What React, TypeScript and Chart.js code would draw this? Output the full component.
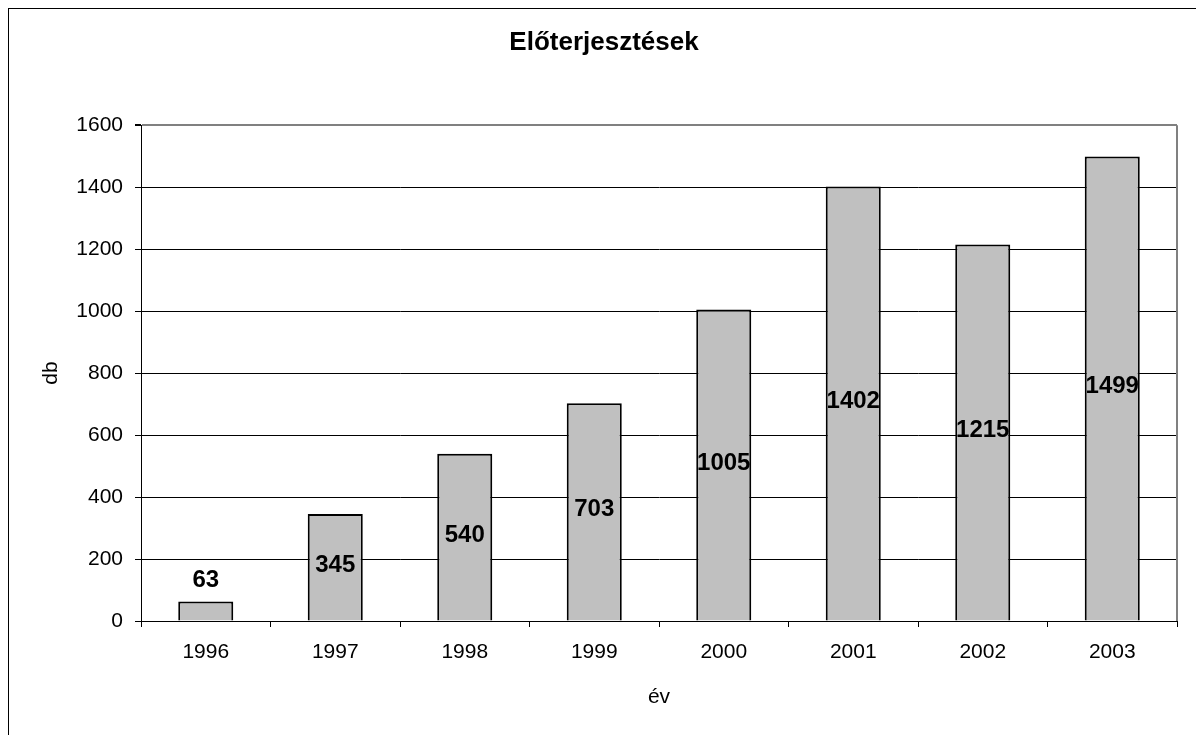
import React, { useEffect, useRef } from "react";
import { Chart, registerables } from "chart.js";

Chart.register(...registerables);

const years: string[] = ["1996", "1997", "1998", "1999", "2000", "2001", "2002", "2003"];
const submissions: number[] = [63, 345, 540, 703, 1005, 1402, 1215, 1499];
const yMin = 0;
const yMax = 1600;
const yStep = 200;
const chartTitle = "Előterjesztések";
const xTitle = "év";
const yTitle = "db";

const FONT = '"Liberation Sans", Arial, Helvetica, sans-serif';

const barLabels = {
  id: "barLabels",
  afterDatasetsDraw(chart: any) {
    const ctx = chart.ctx;
    const meta = chart.getDatasetMeta(0);
    ctx.save();
    ctx.font = `bold 24px ${FONT}`;
    ctx.fillStyle = "#000";
    ctx.textAlign = "center";
    ctx.textBaseline = "middle";
    meta.data.forEach((bar: any, i: number) => {
      const { x, y, base } = bar.getProps(["x", "y", "base"], true);
      const h = base - y;
      const ty = h > 30 ? (y + base) / 2 - 2 : y - 21;
      ctx.fillText(String(submissions[i]), x, ty);
    });
    ctx.restore();
  },
};

const plotFrame = {
  id: "plotFrame",
  afterDraw(chart: any) {
    const { ctx, chartArea } = chart;
    ctx.save();
    ctx.strokeStyle = "#808080";
    ctx.lineWidth = 2;
    ctx.beginPath();
    ctx.moveTo(chartArea.right, chartArea.top);
    ctx.lineTo(chartArea.right, chartArea.bottom);
    ctx.stroke();
    ctx.restore();
  },
};

export default function App() {
  const ref = useRef<HTMLCanvasElement | null>(null);

  useEffect(() => {
    if (!ref.current) return;
    const chart = new Chart(ref.current, {
      type: "bar",
      data: {
        labels: years,
        datasets: [
          {
            data: submissions,
            backgroundColor: "#C0C0C0",
            borderColor: "#000000",
            borderWidth: 2,
            categoryPercentage: 1,
            barPercentage: 0.425,
          },
        ],
      },
      options: {
        animation: false,
        responsive: false,
        maintainAspectRatio: false,
        layout: { padding: { left: 22, right: 22, top: 0, bottom: 0 } },
        plugins: {
          legend: { display: false },
          tooltip: { enabled: false },
          title: {
            display: true,
            text: chartTitle,
            color: "#000",
            font: { family: FONT, size: 26, weight: "bold" },
            padding: { top: 18, bottom: 67 },
          },
        },
        scales: {
          x: {
            afterFit: (scale: any) => {
              scale.height = 106;
            },
            grid: {
              display: true,
              drawOnChartArea: false,
              offset: true,
              tickLength: 6,
              color: "#000",
              tickColor: "#000",
            },
            border: { display: true, color: "#000", width: 1 },
            ticks: {
              color: "#000",
              padding: 13,
              font: { family: FONT, size: 21 },
              maxRotation: 0,
            },
            title: {
              display: true,
              text: xTitle,
              color: "#000",
              font: { family: FONT, size: 21 },
              padding: { top: 0, bottom: 17 },
            },
          },
          y: {
            min: yMin,
            max: yMax,
            afterFit: (scale: any) => {
              scale.width = 110;
            },
            grid: {
              color: (c: any) => (c.tick && c.tick.value === yMax ? "#808080" : "#000"),
              lineWidth: (c: any) => (c.tick && c.tick.value === yMax ? 2 : 1),
              tickColor: "#000",
              tickLength: 6,
            },
            border: { display: true, color: "#000", width: 1 },
            ticks: {
              stepSize: yStep,
              color: "#000",
              padding: 12,
              font: { family: FONT, size: 21 },
              callback: (v: any) => String(v),
            },
            title: {
              display: true,
              text: yTitle,
              color: "#000",
              font: { family: FONT, size: 21 },
              padding: { top: 8, bottom: 0 },
            },
          },
        },
      },
      plugins: [barLabels, plotFrame],
    });
    return () => chart.destroy();
  }, []);

  return (
    <div
      style={{
        position: "fixed",
        left: 8,
        top: 8,
        width: 1188,
        height: 727,
        overflow: "hidden",
      }}
    >
      <div style={{ width: 1190, height: 800, border: "1px solid #000", background: "#fff" }}>
        <canvas ref={ref} width={1190} height={718} style={{ display: "block" }} />
      </div>
    </div>
  );
}
